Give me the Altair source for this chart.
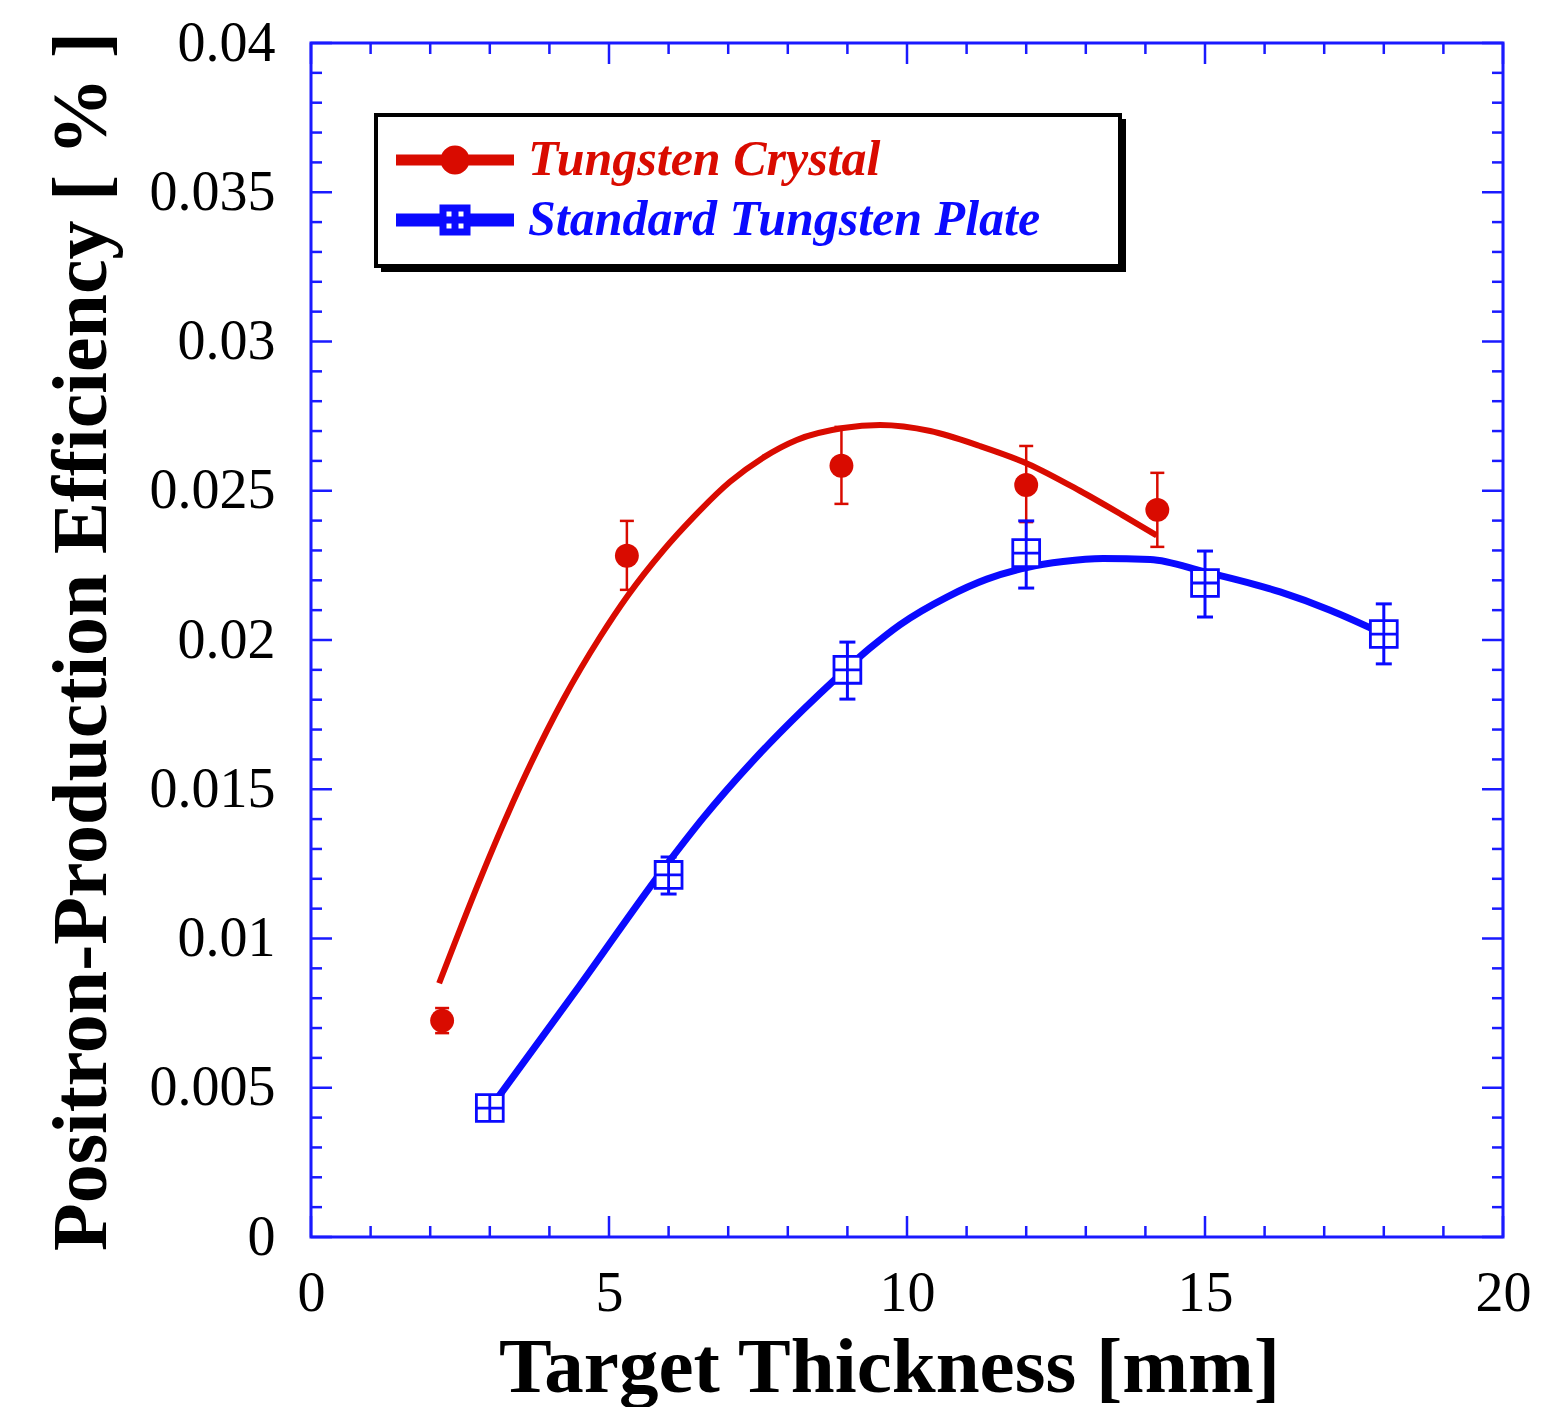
import altair as alt
import pandas as pd

# ---------------- data ----------------
SERIES = ["Tungsten Crystal", "Standard Tungsten Plate"]
COLORS = ["#d90b00", "#0a0aff"]
FRAME = "#1a1aff"

crystal_x = [2.2, 5.3, 8.9, 12.0, 14.2]
crystal_y = [0.00725, 0.02282, 0.02584, 0.02519, 0.02436]
crystal_lo = [0.00683, 0.02168, 0.02456, 0.02395, 0.02312]
crystal_hi = [0.00767, 0.02399, 0.02714, 0.02650, 0.02560]

plate_x = [3, 6, 9, 12, 15, 18]
plate_y = [0.00432, 0.01213, 0.01900, 0.02291, 0.02191, 0.02020]
plate_lo = [0.00432, 0.01149, 0.01802, 0.02174, 0.02077, 0.01920]
plate_hi = [0.00432, 0.01273, 0.01993, 0.02399, 0.02298, 0.02121]

crystal_fit_x = [2.15, 2.84, 3.51, 4.23, 4.85, 5.32, 5.91, 6.41, 7.03, 7.58,
                 8.15, 8.93, 9.55, 10.39, 11.22, 12.03, 12.9, 13.6, 14.19]
crystal_fit_y = [0.0085, 0.0120, 0.0151, 0.0180, 0.0201, 0.0215, 0.0230, 0.0241,
                 0.0253, 0.0261, 0.0267, 0.0271, 0.0272, 0.0270, 0.0265, 0.0259,
                 0.0250, 0.0242, 0.0235]

plate_fit_x = [3.0, 4.5, 6.0, 6.58, 7.42, 8.26, 8.83, 9.38, 9.88, 10.67, 11.34,
               12.01, 12.62, 13.29, 14.08, 15.0, 16.26, 17.1, 18.0]
plate_fit_y = [0.0043, 0.0084, 0.01256, 0.01404, 0.01596, 0.01767, 0.01875,
               0.01973, 0.02051, 0.02144, 0.02204, 0.02243, 0.02263, 0.02273,
               0.0227, 0.02228, 0.02161, 0.0210, 0.0202]

x_major = [0, 5, 10, 15, 20]
x_minor = [1, 2, 3, 4, 6, 7, 8, 9, 11, 12, 13, 14, 16, 17, 18, 19]
y_major = [0, 0.005, 0.01, 0.015, 0.02, 0.025, 0.03, 0.035, 0.04]
y_minor = [0.001, 0.002, 0.003, 0.004, 0.006, 0.007, 0.008, 0.009,
           0.011, 0.012, 0.013, 0.014, 0.016, 0.017, 0.018, 0.019,
           0.021, 0.022, 0.023, 0.024, 0.026, 0.027, 0.028, 0.029,
           0.031, 0.032, 0.033, 0.034, 0.036, 0.037, 0.038, 0.039]

X_TITLE = "Target Thickness [mm]"
Y_TITLE = "Positron-Production Efficiency [ % ]"

# ---------------- tables ----------------
fit_df = pd.concat([
    pd.DataFrame({"series": SERIES[0], "shadow": SERIES[0], "x": crystal_fit_x, "y": crystal_fit_y}),
    pd.DataFrame({"series": SERIES[1], "shadow": SERIES[1], "x": plate_fit_x, "y": plate_fit_y}),
])
crystal_df = pd.DataFrame({"x": crystal_x, "y": crystal_y, "lo": crystal_lo, "hi": crystal_hi})
plate_df = pd.DataFrame({"x": plate_x, "y": plate_y, "lo": plate_lo, "hi": plate_hi})
xmaj_df = pd.DataFrame({"x": x_major})
xmin_df = pd.DataFrame({"x": x_minor})
ymaj_df = pd.DataFrame({"y": y_major})
ymin_df = pd.DataFrame({"y": y_minor})

W, H = 1192, 1194
FONT = "Liberation Serif"

xs = alt.Scale(domain=[0, 20], nice=False, zero=False)
ys = alt.Scale(domain=[0, 0.04], nice=False, zero=False)

x_axis = alt.Axis(values=x_major, format="d", domain=False, ticks=False, tickSize=0,
                  grid=False, labelFont=FONT, labelFontSize=56, labelColor="black",
                  labelFlush=False, labelBaseline="alphabetic", labelPadding=73,
                  titleFont=FONT, titleFontSize=79, titleFontWeight="bold",
                  titleColor="black", titleX=578, titleY=154,
                  titleBaseline="alphabetic", titleAlign="center")
y_axis = alt.Axis(values=y_major, format="~g", domain=False, ticks=False, tickSize=0,
                  grid=False, labelFont=FONT, labelFontSize=56, labelColor="black",
                  labelFlush=False, labelPadding=36, labelBaseline="middle",
                  titleFont=FONT, titleFontSize=78, titleFontWeight="bold",
                  titleColor="black", titleX=-206, titleY=598, titleAngle=270,
                  titleBaseline="alphabetic", titleAlign="center")


def X(field="x"):
    return alt.X(f"{field}:Q", scale=xs, axis=x_axis, title=X_TITLE)


def Y(field="y"):
    return alt.Y(f"{field}:Q", scale=ys, axis=y_axis, title=Y_TITLE)


# legend symbols (stroke-only custom paths drawn with a 3 px stroke,
# 10 px per unit at symbolSize 400); the trailing zero-length segment
# only widens the legend frame.
def far(u):
    return f" M{u},0 L{u},0"


def ring(r):
    return f"M-{r},0 A{r},{r},0,1,1,{r},0 A{r},{r},0,1,1,-{r},0 "


RED_BODY = ("M-5.9,-0.25 H5.9 M-5.9,0 H5.9 M-5.9,0.25 H5.9 "
            + ring(1.15) + ring(0.9) + ring(0.65) + ring(0.4) + ring(0.15))
BLUE_BODY = ("M-5.9,-0.3 H-1.35 M-5.9,0 H-1.35 M-5.9,0.3 H-1.35 "
             "M1.35,-0.3 H5.9 M1.35,0 H5.9 M1.35,0.3 H5.9 "
             "M-1.2,-1.2 H1.2 V1.2 H-1.2 Z M0,-1.2 V1.2 M-1.2,0 H1.2")
BOX_PATH = "M-1,-1 H1 V1 H-1 Z M0,-1 V1 M-1,0 H1"

TEST = "datum.value === 'Tungsten Crystal'"


def symbol_expr(u):
    return {"expr": f"{TEST} ? '{RED_BODY + far(u)}' : '{BLUE_BODY + far(u)}'"}


legend_common = dict(
    title=None, orient="none", labelFont=FONT, labelFontSize=50,
    labelFontStyle="italic", labelFontWeight="bold", labelBaseline="middle",
    symbolSize=400, padding=20, rowPadding=9,
    symbolOffset=34, labelOffset=48, labelLimit=0,
    symbolFillColor="transparent", symbolStrokeWidth=3,
)

main_legend = alt.Legend(
    legendX=65, legendY=72, zindex=3, fillColor="white", strokeColor="black",
    labelColor={"expr": f"{TEST} ? '{COLORS[0]}' : '{COLORS[1]}'"},
    symbolType=symbol_expr(63.1),
    **legend_common,
)
shadow_legend = alt.Legend(
    legendX=72, legendY=78, zindex=2, fillColor="black", strokeColor="black",
    labelExpr="''", symbolType=symbol_expr(63.6),
    **legend_common,
)

lines = alt.Chart(fit_df).mark_line(interpolate="monotone", strokeCap="butt").encode(
    x=X(), y=Y(),
    color=alt.Color("series:N", scale=alt.Scale(domain=SERIES, range=COLORS),
                    legend=main_legend),
    strokeWidth=alt.StrokeWidth("series:N", scale=alt.Scale(domain=SERIES, range=[6, 7]),
                                legend=None),
    opacity=alt.Opacity("shadow:N", scale=alt.Scale(range=[1, 1]), legend=shadow_legend),
    detail="series:N",
)


def errbars(df, color, width, cap):
    rules = alt.Chart(df).mark_rule(color=color, strokeWidth=width).encode(
        x=X(), y=Y("lo"), y2="hi:Q")
    lo = alt.Chart(df).mark_tick(orient="horizontal", color=color, thickness=width,
                                 size=cap, opacity=1).encode(x=X(), y=Y("lo"))
    hi = alt.Chart(df).mark_tick(orient="horizontal", color=color, thickness=width,
                                 size=cap, opacity=1).encode(x=X(), y=Y("hi"))
    return [rules, lo, hi]


crystal_pts = alt.Chart(crystal_df).mark_point(
    shape="circle", filled=True, size=572, color=COLORS[0], opacity=1
).encode(x=X(), y=Y())

plate_pts = alt.Chart(plate_df).mark_point(
    shape=BOX_PATH, filled=False, fill="white", fillOpacity=1, stroke=COLORS[1],
    strokeWidth=2.8, size=720, opacity=1
).encode(x=X(), y=Y())


def xticks(df, length, top):
    if top:
        yy, yy2 = alt.value(0), alt.value(length)
    else:
        yy, yy2 = alt.value(H), alt.value(H - length)
    return alt.Chart(df).mark_rule(color=FRAME, strokeWidth=2.5).encode(x=X(), y=yy, y2=yy2)


def yticks(df, length, right):
    if right:
        xx, xx2 = alt.value(W), alt.value(W - length)
    else:
        xx, xx2 = alt.value(0), alt.value(length)
    return alt.Chart(df).mark_rule(color=FRAME, strokeWidth=2.5).encode(y=Y(), x=xx, x2=xx2)


tick_layers = [
    xticks(xmaj_df, 21, False), xticks(xmin_df, 11, False),
    xticks(xmaj_df, 21, True), xticks(xmin_df, 11, True),
    yticks(ymaj_df, 21, False), yticks(ymin_df, 11, False),
    yticks(ymaj_df, 21, True), yticks(ymin_df, 11, True),
]

chart = alt.layer(
    *tick_layers, lines,
    *errbars(crystal_df, COLORS[0], 2.5, 14),
    *errbars(plate_df, COLORS[1], 3.0, 16),
    crystal_pts, plate_pts
).properties(
    width=W, height=H,
    autosize=alt.AutoSizeParams(type="none"),
    padding={"left": 303, "top": 35, "right": 42, "bottom": 170},
    background="white",
).configure_view(
    stroke=FRAME, strokeWidth=3
).configure_legend(
    strokeWidth=4, cornerRadius=0
)

chart.save("out.html", embed_options={"renderer": "svg", "actions": False})
